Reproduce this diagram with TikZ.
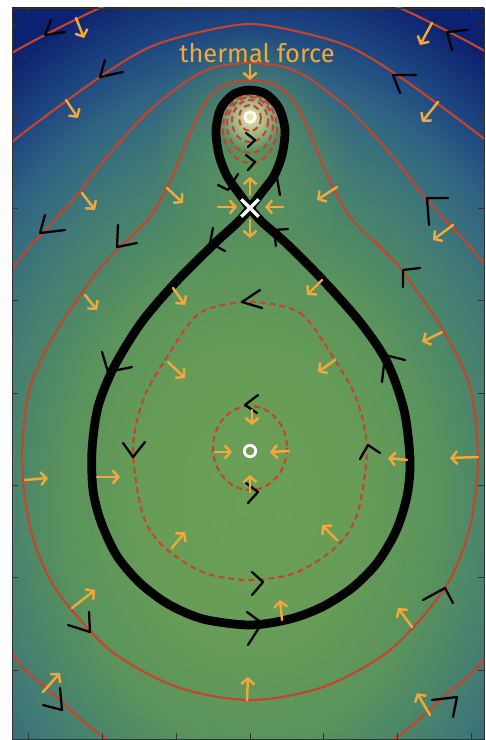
\documentclass[tikz,border=0pt]{standalone}
\usepackage{fontspec}
\setsansfont{Fira Sans}
\usepackage{tikz}
\usetikzlibrary{arrows.meta,fadings,shapes.misc}
\definecolor{lg0}{RGB}{106,160,85}
\definecolor{lg1}{RGB}{102,156,87}
\definecolor{lg2}{RGB}{90,147,92}
\definecolor{lg3}{RGB}{76,135,105}
\definecolor{lg4}{RGB}{62,119,120}
\definecolor{lg5}{RGB}{47,99,131}
\definecolor{lg6}{RGB}{29,69,128}
\definecolor{lg7}{RGB}{12,34,112}
\definecolor{contourred}{RGB}{196,68,44}
\definecolor{forceorange}{RGB}{242,168,58}
\definecolor{wellglow}{RGB}{238,228,168}
\definecolor{wellhalo}{RGB}{92,148,90}
\pgfdeclareradialshading{landscape}{\pgfpoint{0bp}{0bp}}{color(0bp)=(lg0); color(6.8bp)=(lg1); color(11bp)=(lg2); color(13.6bp)=(lg3); color(16.6bp)=(lg4); color(19.3bp)=(lg5); color(21.6bp)=(lg6); color(24.45bp)=(lg7); color(50bp)=(lg7)}
\tikzfading[name=soft, inner color=transparent!0, outer color=transparent!100]

\begin{document}
\begin{tikzpicture}[x=0.02cm,y=-0.02cm,
 level/.style={draw=contourred,line width=1.2pt},
 sublevel/.style={draw=contourred,line width=1.2pt,dash pattern=on 3.4pt off 2.3pt},
 separatrix/.style={draw=black,line width=5pt,line join=round},
 flow/.style={draw=black,line width=1.3pt,line cap=round,line join=round},
 force/.style={draw=forceorange,line width=1.4pt,line cap=round,-{Straight Barb[length=3.2pt,width=7.5pt]}},
 axis/.style={draw=black!80,line width=0.5pt}]
\useasboundingbox (0,0) rectangle (485,740);
\begin{scope}
\clip (12,8) rectangle (484,739);
\fill[lg7] (12,8) rectangle (484,739);
\shade[shading=landscape] (-170,-50) rectangle (670,1050);
\fill[wellhalo,path fading=soft] (250,165) ellipse (100 and 135);
\fill[wellglow,path fading=soft] (250,117) circle (34);
\draw[level] plot[smooth] coordinates {(-30,80) (12,53) (45,35) (100,8) (160,-15) (250,-28) (340,-15) (400,8) (455,35) (488,53) (530,80)};
\draw[level] plot[smooth] coordinates {(-50,200) (12,142) (100,77) (150,47) (200,32) (250,24) (300,32) (350,47) (400,77) (488,142) (550,200)};
\draw[level] plot[smooth cycle] coordinates {(250,63) (280,66) (307,77) (350,110) (393,157) (427,200) (470,247) (500,290) (522,380) (528,470) (515,580) (485,657) (440,700) (397,737) (330,775) (250,790) (170,775) (103,737) (60,700) (15,657) (-15,580) (-28,470) (-22,380) (0,290) (30,247) (73,200) (107,157) (150,110) (193,77) (220,66)};
\draw[level] plot[smooth cycle] coordinates {(250,81) (273,84) (293,100) (310,133) (327,175) (350,217) (383,250) (403,272) (443,330) (470,387) (478,457) (470,527) (445,588) (390,650) (323,687) (250,700) (177,687) (110,650) (55,588) (30,527) (22,457) (30,387) (57,330) (97,272) (117,250) (150,217) (173,175) (190,133) (207,100) (227,84)};
\foreach \ey/\ea/\eb in {118/11/13,121/18/21,125/23/28,129/27/34}
 \draw[sublevel] (250,\ey) ellipse [x radius=\ea, y radius=\eb];
\draw[sublevel] plot[smooth cycle] coordinates {(250,302) (300,313) (333,357) (357,400) (367,450) (357,515) (335,548) (295,573) (250,580) (205,573) (165,548) (143,515) (133,450) (143,400) (167,357) (200,313)};
\draw[sublevel] (250,448) ellipse [x radius=37, y radius=42];
\draw[separatrix] plot[smooth cycle] coordinates {(250,208) (238,192) (227,176) (219,155) (216,130) (221,108) (234,94) (250,90) (266,94) (279,108) (285,130) (282,155) (274,176) (262,192) (250,208) (238,222) (214,244) (175,283) (141,323) (114,367) (98,407) (92,450) (93,490) (101,522) (117,556) (140,583) (168,604) (203,619) (250,625) (290,619) (322,607) (352,588) (377,563) (396,531) (407,496) (410,460) (404,410) (387,362) (360,322) (320,277) (286,243) (262,222)};
\foreach \x/\y/\ax/\ay/\bx/\by in {45/35/6/-15/20/-3,100/77/5/-17/23/-5,40/233/5/-18/25/-3,117/247/1/-22/20/-4,210/243/3/-15/15/8,108/372/-6/-20/24/-5,133/457/-10/-14/12/-15,242/302/18/-12/20/6,245/405/13/-10/12/8,258/492/-12/-9/-10/11,255/140/-9/-7/-7/7,255/162/-9/-7/-7/8,228/190/-10/-5/10/-16,277/178/-12/6/3/17,274/230/14/-1/2/16,447/32/20/-2/5/18,393/75/23/0/7/18,427/198/21/0/2/27,403/270/17/-2/0/17,385/355/20/5/-3/27,368/445/-8/14/12/8,90/632/-1/-20/-22/-7,62/710/-2/-22/-19/-5,262/623/-15/-11/-14/22,263/582/-11/-10/-11/13,445/588/-22/12/8/15,457/697/-25/3/-4/20}
 \draw[flow] (\x+\ax,\y+\ay) -- (\x,\y) -- (\x+\bx,\y+\by);
\foreach \xa/\ya/\xb/\yb in {76/18/84/38,66/100/78/118,82/193/95/210,167/188/183/203,250/65/250/80,432/23/420/45,438/102/422/122,337/187/317/200,453/225/433/240,218/207/237/207,283/207/265/207,250/195/250/177,250/220/250/238,85/295/97/310,173/288/185/305,168/362/185/378,322/280/307/295,442/332/422/342,335/360/318/372,252/410/252/425,215/452/232/452,289/451/270/452,250/492/250/475,407/460/388/458,478/457/450/458,25/480/48/478,97/477/120/477,172/548/185/532,337/540/322/525,282/620/280/600,72/608/95/590,412/627/398/608,247/700/248/677,43/692/60/673,430/715/417/693}
 \draw[force] (\xa,\ya) -- (\xb,\yb);
\end{scope}
\node[circle,draw=white,fill=wellglow,line width=1.6pt,minimum size=6pt,inner sep=0pt] (upperwell) at (250,117) {};
\node[circle,draw=white,line width=1.6pt,minimum size=6.5pt,inner sep=0pt] (lowerwell) at (250,451) {};
\node[cross out,draw=white,line width=1.9pt,minimum size=8pt,inner sep=0pt] (saddle) at (250,208) {};
\node[text=forceorange,font=\sffamily\fontsize{14.5}{16}\selectfont] (thermal) at (257,53) {thermal force};
\draw[axis] (12,8) rectangle (484,739);
\foreach \t in {-3,...,3}{
 \draw[axis] ({250+\t*73.7},8) -- ++(0,6);
 \draw[axis] ({250+\t*73.7},739) -- ++(0,-6);}
\foreach \t in {0,...,7}{
 \draw[axis] (12,{24+\t*92.3}) -- ++(6,0);
 \draw[axis] (484,{24+\t*92.3}) -- ++(-6,0);}
\end{tikzpicture}
\end{document}
